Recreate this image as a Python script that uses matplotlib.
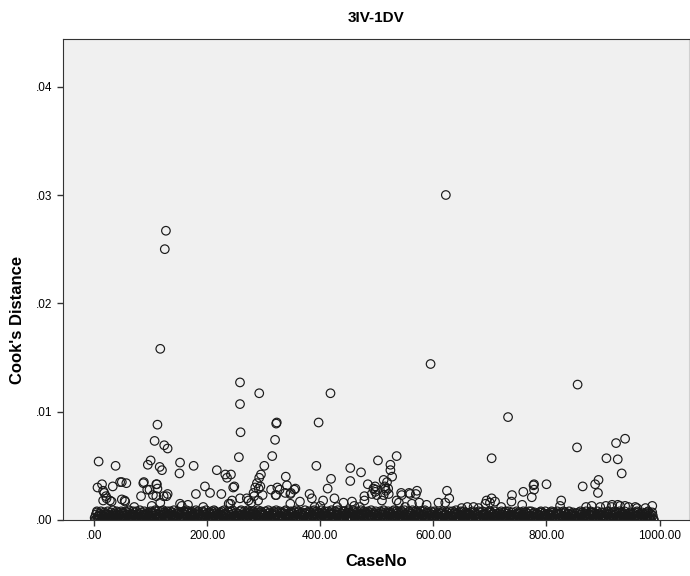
import numpy as np
import matplotlib.pyplot as plt
from matplotlib.ticker import FuncFormatter

# Low Cook's distance values for cases 1..990, one digit per case (units of 0.0001)
band_rows = [
    "2051730416 2850314725 0618243057 1392046158 2740531867",
    "0426183750 2914063582 1704835260 9137052481 6305274018",
    "3716042985 1063527408 1952706348 2061847530 9412063857",
    "1504736281 0593728046 1837502649 0728156304 2817350962",
    "4017253860 1948207536 2071584039 6125048731 0583926140",
    "7236041859 2150386417 0942718563 2806154739 1350827460",
    "5183026947 1305628471 0957314826 3071628594 2046315870",
    "1628403957 2813605742 0496217358 1730548296 3518207640",
    "2957041863 1408362759 0623185047 9251730648 2084516379",
    "1730625948 0417382651 3962048175 2608135749 1375062841",
    "0416283571 2950714368 1627053849 0314862750 2418367095",
    "3051728460 1693042857 2071365814 0582931746 2106485370",
    "1824063571 0362718450 2507143826 1048362759 0613275184",
    "2038157460 1605274381 0742615308 3127048562 1563027418",
    "0715362840 2406137258 1350724816 0681435270 2143058627",
    "3620741583 0257136480 1480263175 2063514708 0721463852",
    "1306257480 2714036581 0625173408 1473052618 3052647130",
    "0461327058 1527034618 2036145870 0742613528 1365027401",
    "2714036582 0362517408 1503726481 0267351840 2430615273",
    "0526137408 1740263571 0351627048 2163057410",
]

# Cases that stand out above the band (CaseNo, Cook's distance)
outliers = [
    (127, .0267), (125, .0250), (622, .0300), (117, .0158), (595, .0144),
    (258, .0127), (855, .0125), (292, .0117), (418, .0117), (258, .0107),
    (732, .0095), (397, .0090), (322, .0089), (323, .0090), (112, .0088),
    (259, .0081), (939, .0075), (320, .0074), (107, .0073), (923, .0071),
    (124, .0069), (130, .0066), (854, .0067), (535, .0059), (256, .0058),
    (315, .0059), (703, .0057), (906, .0057), (926, .0056), (8, .0054),
    (100, .0055), (502, .0055), (152, .0053), (95, .0051), (38, .0050),
    (176, .0050), (301, .0050), (393, .0050), (524, .0051), (116, .0049),
    (453, .0048), (120, .0046), (217, .0046), (524, .0046), (472, .0044),
    (151, .0043), (933, .0043), (232, .0042), (242, .0042), (295, .0042),
    (235, .0039), (292, .0039), (527, .0040), (419, .0038), (339, .0040),
    (892, .0037), (453, .0036), (512, .0037), (49, .0035), (46, .0035),
    (88, .0035), (288, .0034), (518, .0035), (57, .0034), (87, .0034),
    (14, .0033), (33, .0031), (111, .0033), (110, .0033), (484, .0033),
    (341, .0032), (778, .0033), (800, .0033), (886, .0033), (864, .0031),
    (6, .0030), (196, .0031), (248, .0031), (246, .0030), (285, .0030),
    (294, .0031), (324, .0030), (497, .0031), (514, .0031), (777, .0032),
    (94, .0028), (98, .0028), (112, .0029), (291, .0029), (313, .0028),
    (328, .0028), (354, .0028), (356, .0029), (413, .0029), (494, .0029),
    (515, .0029), (520, .0029), (498, .0028), (778, .0028), (16, .0027),
    (624, .0027), (516, .0027), (571, .0027), (497, .0026), (759, .0026),
    (18, .0025), (205, .0025), (338, .0025), (282, .0025), (348, .0025),
    (543, .0025), (557, .0025), (891, .0025), (381, .0024), (180, .0024),
    (225, .0024), (130, .0024), (347, .0024), (491, .0024), (521, .0024),
    (569, .0024), (559, .0024), (298, .0023), (321, .0023), (104, .0023),
    (512, .0023), (500, .0023), (544, .0023), (739, .0023), (21, .0022),
    (83, .0022), (110, .0022), (123, .0022), (128, .0022), (283, .0022),
    (322, .0023), (478, .0022), (22, .0020), (258, .0020), (270, .0020),
    (385, .0020), (425, .0020), (628, .0020), (703, .0020), (774, .0021),
    (49, .0019), (31, .0017), (55, .0017), (16, .0018), (28, .0018),
    (54, .0018), (273, .0018), (290, .0018), (244, .0018), (405, .0018),
    (478, .0018), (509, .0018), (535, .0018), (694, .0018), (826, .0018),
    (709, .0017), (738, .0017), (364, .0017), (456, .0017), (117, .0016),
    (278, .0016), (441, .0016), (539, .0016), (575, .0016), (609, .0016),
    (621, .0016), (700, .0016), (238, .0015), (152, .0015), (241, .0015),
    (347, .0015), (562, .0015), (692, .0015), (166, .0014), (588, .0014),
    (757, .0014), (916, .0014), (926, .0014), (939, .0013), (824, .0013),
    (71, .0012), (102, .0013), (155, .0013), (193, .0012), (550, .0012),
    (671, .0012), (720, .0012), (957, .0012), (987, .0013), (5, .0008),
    (870, .0012), (880, .0013), (895, .0012), (905, .0013), (915, .0012),
    (930, .0013), (945, .0012), (960, .0011), (975, .0011), (650, .0011),
    (660, .0012), (680, .0011), (390, .0012), (400, .0013), (430, .0012),
    (460, .0013), (470, .0012),
]

x_ticks = [0, 200, 400, 600, 800, 1000]
y_ticks = [0, .01, .02, .03, .04]

band = "".join(band_rows).replace(" ", "")
band_y = np.array([int(c) for c in band]) * 0.0001
band_x = np.arange(1, len(band) + 1)
out_x = [p[0] for p in outliers]
out_y = [p[1] for p in outliers]

plt.rcParams['font.family'] = ['Liberation Sans', 'DejaVu Sans']

fig = plt.figure(figsize=(6.9, 5.76), dpi=100)
ax = fig.add_axes([63 / 690, 1 - 520 / 576, 626 / 690, 481 / 576])
ax.set_facecolor('#f0f0f0')

ax.scatter(band_x, band_y, s=38, facecolors='none', edgecolors='#1a1a1a', linewidths=0.85)
ax.scatter(out_x, out_y, s=38, facecolors='none', edgecolors='#1a1a1a', linewidths=0.85)

ax.set_xlim(-55, 1052)
ax.set_ylim(0, 0.0444)
ax.set_xticks(x_ticks)
ax.set_yticks(y_ticks)
ax.xaxis.set_major_formatter(FuncFormatter(lambda v, p: "%.2f" % v if v else ".00"))
ax.yaxis.set_major_formatter(FuncFormatter(lambda v, p: ("%.2f" % v).lstrip("0")))
ax.tick_params(direction='out', length=4, width=1, labelsize=8.5, color='#333333')

for side in ['left', 'bottom', 'top']:
    ax.spines[side].set_color('#333333')
ax.spines['right'].set_color('#d0d0d0')

fig.text(376 / 690, 1 - 18 / 576, "3IV-1DV", ha='center', va='center', fontsize=11, fontweight='bold')
fig.text(376 / 690, 1 - 561 / 576, "CaseNo", ha='center', va='center', fontsize=12, fontweight='bold')
fig.text(18 / 690, 1 - 320 / 576, "Cook's Distance", ha='center', va='center', rotation=90,
         fontsize=12, fontweight='bold')

fig.savefig("out.png", dpi=100)
